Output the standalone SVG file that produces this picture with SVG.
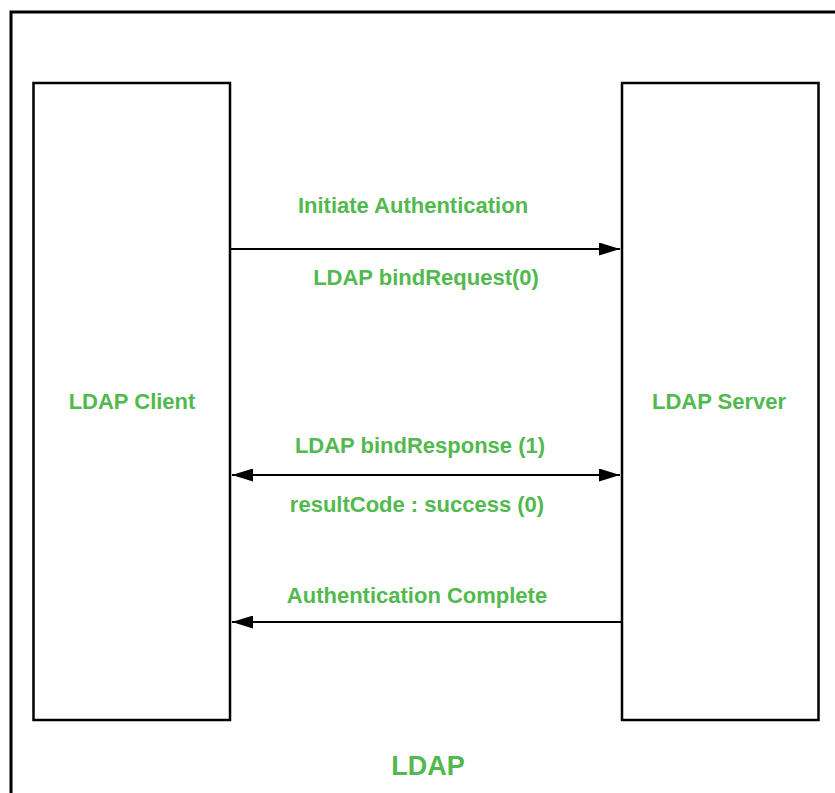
<svg xmlns="http://www.w3.org/2000/svg" width="835" height="793" viewBox="0 0 835 793">
  <style>
    .frame { fill: none; stroke: #000; stroke-width: 3; }
    .box { fill: #fff; stroke: #000; stroke-width: 2.5; }
    .label { font-family: "Liberation Sans", Arial, sans-serif; font-weight: bold; fill: #52b94e; text-anchor: middle; }
    .msg { font-size: 22px; }
    .link { stroke: #000; stroke-width: 2.2; fill: none; }
  </style>
  <defs>
    <marker id="head-end" markerWidth="21" markerHeight="13" refX="21" refY="6.5" orient="auto" markerUnits="userSpaceOnUse">
      <path d="M0,0 L21,6.5 L0,13 Z" fill="#000"/>
    </marker>
    <marker id="head-start" markerWidth="21" markerHeight="13" refX="0" refY="6.5" orient="auto" markerUnits="userSpaceOnUse">
      <path d="M21,0 L0,6.5 L21,13 Z" fill="#000"/>
    </marker>
  </defs>
  <rect width="835" height="793" fill="#fff"/>

  <!-- outer frame -->
  <g id="frame">
    <rect class="frame" x="11" y="12" width="840" height="800"/>
    <text class="label" x="428" y="775" style="font-size:27px">LDAP</text>
  </g>

  <g id="client">
    <rect class="box" x="33.5" y="83" width="196.5" height="637"/>
    <text class="label msg" x="132" y="409">LDAP Client</text>
  </g>

  <g id="server">
    <rect class="box" x="622" y="83" width="196.5" height="637"/>
    <text class="label msg" x="719" y="409">LDAP Server</text>
  </g>

  <g id="connectors">
    <line class="link" x1="231" y1="249" x2="620" y2="249" marker-end="url(#head-end)"/>
    <line class="link" x1="232" y1="475" x2="620" y2="475" marker-start="url(#head-start)" marker-end="url(#head-end)"/>
    <line class="link" x1="621" y1="622" x2="232" y2="622" marker-end="url(#head-end)"/>
  </g>

  <g id="labels">
    <text class="label msg" x="413" y="213">Initiate Authentication</text>
    <text class="label msg" x="426" y="285">LDAP bindRequest(0)</text>
    <text class="label msg" x="420" y="453">LDAP bindResponse (1)</text>
    <text class="label msg" x="417" y="512">resultCode : success (0)</text>
    <text class="label msg" x="417" y="603">Authentication Complete</text>
  </g>
</svg>
